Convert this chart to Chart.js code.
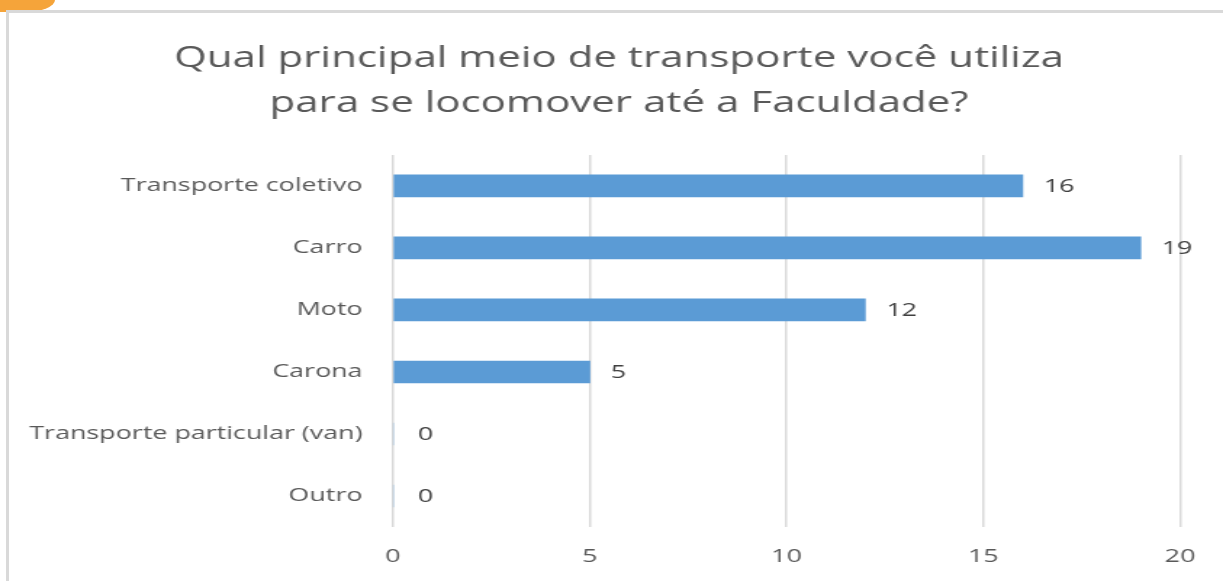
<!DOCTYPE html>
<html>
<head>
<meta charset="utf-8">
<script src="https://cdn.jsdelivr.net/npm/chart.js@4"></script>
<style>
  html, body { margin: 0; padding: 0; background: #fff; }
  body { width: 1223px; height: 581px; position: relative; overflow: hidden; }
  #corner { position: absolute; left: 0; top: 0; width: 55px; height: 12px; background: #f5a43a; border-bottom-right-radius: 30px 12px; }
  #frame { position: absolute; left: 6px; top: 10px; width: 1240px; height: 600px; border-left: 3px solid #d9d9d9; border-top: 3px solid #d9d9d9; background: #fff; }
  #chart { position: absolute; left: 0; top: 0; }
</style>
</head>
<body>
<div id="corner"></div>
<div id="frame"></div>
<canvas id="chart" width="843" height="581" style="width:1223px;height:581px"></canvas>
<script>
const categories = ['Transporte coletivo', 'Carro', 'Moto', 'Carona', 'Transporte particular (van)', 'Outro'];
const respostas = [16, 19, 12, 5, 0, 0];
const xTicks = [0, 5, 10, 15, 20];

// the reference picture is stretched sideways, so the canvas is too
const stretch = 1223 / 843;
const canvasW = 843;
const plotLeft = 393 / stretch;
const plotRight = 1181 / stretch;
const titleCenter = 619 / stretch;
const padLeft = 18;
const padRight = padLeft + canvasW - 2 * titleCenter;
const rightGap = canvasW - padRight - plotRight;

const valueLabels = {
    id: 'valueLabels',
    afterDatasetsDraw(chart) {
        const ctx = chart.ctx;
        const meta = chart.getDatasetMeta(0);
        ctx.save();
        ctx.font = '18.5px "Open Sans"';
        ctx.fillStyle = '#404040';
        ctx.textAlign = 'left';
        ctx.textBaseline = 'middle';
        meta.data.forEach((bar, i) => {
            const gap = respostas[i] === 0 ? 17 : 14.5;
            ctx.fillText(String(respostas[i]), bar.x + gap, bar.y + 1);
        });
        ctx.restore();
    }
};

new Chart(document.getElementById('chart'), {
    type: 'bar',
    data: {
        labels: categories,
        datasets: [{
            data: respostas,
            backgroundColor: '#5b9bd5',
            barThickness: 22
        }]
    },
    options: {
        indexAxis: 'y',
        responsive: false,
        animation: false,
        devicePixelRatio: 1,
        layout: { padding: { left: padLeft, right: padRight, top: 0, bottom: 0 } },
        plugins: {
            legend: { display: false },
            tooltip: { enabled: false },
            title: {
                display: true,
                text: ['Qual principal meio de transporte você utiliza', 'para se locomover até a Faculdade?'],
                color: '#595959',
                font: { family: 'Open Sans', size: 29, weight: 'normal', lineHeight: 1.55 },
                padding: { top: 36, bottom: 29 }
            }
        },
        scales: {
            x: {
                min: 0,
                max: 20,
                afterBuildTicks(scale) { scale.ticks = xTicks.map(v => ({ value: v })); },
                afterFit(scale) { scale.height = 581 - 527; },
                grid: { color: '#d9d9d9', lineWidth: 1.5, drawTicks: false },
                border: { display: false },
                ticks: { color: '#595959', padding: 19, font: { family: 'Open Sans', size: 18.5 } }
            },
            y: {
                afterFit(scale) { scale.width = plotLeft - padLeft; },
                grid: { display: false, drawTicks: false },
                border: { display: false },
                ticks: { color: '#595959', padding: 21, font: { family: 'Open Sans', size: 18.5 } }
            },
            // empty axis on the right, only keeps room for the "19" label
            yGap: {
                position: 'right',
                afterFit(scale) { scale.width = rightGap; },
                grid: { display: false, drawTicks: false },
                border: { display: false },
                ticks: { display: false }
            }
        }
    },
    plugins: [valueLabels]
});
</script>
</body>
</html>
